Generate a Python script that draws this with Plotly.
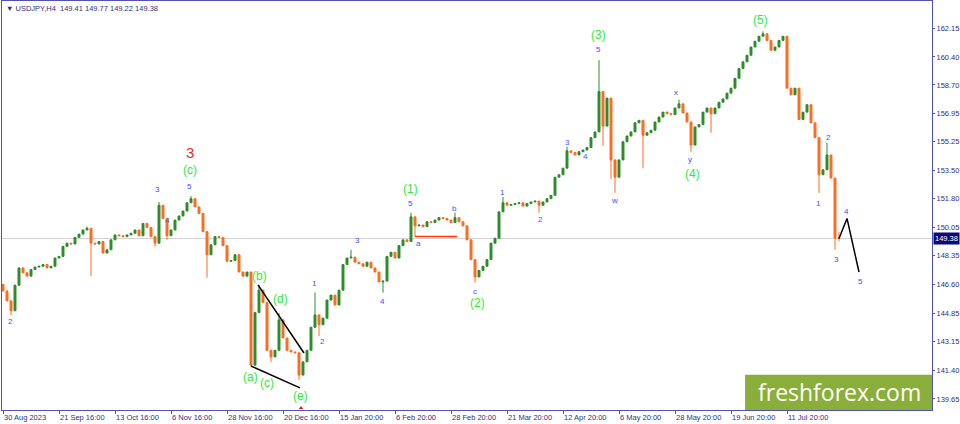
import plotly.graph_objects as go

# USDJPY H4 closes (one bar every few pixels of the original chart)
closes = [
    146.2, 145.6, 145.0, 146.55, 147.6, 147.3, 147.1, 147.5, 147.65, 147.7,
    147.8, 147.6, 147.7, 148.2, 148.3, 148.9, 149.1, 149.05, 149.45, 149.65,
    149.9, 150.0, 149.1, 149.05, 149.2, 148.5, 148.7, 149.3, 149.6, 149.55,
    149.5, 149.6, 149.7, 149.9, 149.55, 150.3, 150.05, 149.5, 149.1, 151.4,
    150.6, 149.55, 149.9, 150.5, 150.75, 151.05, 151.55, 151.8, 151.3, 150.9,
    149.8, 148.4, 149.0, 149.5, 149.45, 148.95, 148.0, 148.05, 148.4, 147.35,
    147.1, 147.35, 141.7, 144.9, 146.25, 145.5, 142.6, 142.2, 142.6, 144.45,
    143.35, 142.6, 142.5, 142.45, 141.1, 141.9, 142.6, 144.0, 144.75, 144.15,
    144.55, 145.65, 145.95, 145.35, 146.25, 147.8, 148.2, 148.25, 147.95, 147.85,
    147.7, 147.95, 147.6, 147.35, 146.75, 146.8, 148.3, 148.55, 148.2, 148.95,
    149.3, 149.2, 150.7, 150.15, 150.2, 150.1, 150.4, 150.35, 150.5, 150.65,
    150.6, 150.5, 150.35, 150.65, 150.4, 150.15, 149.3, 148.1, 147.05, 147.45,
    147.7, 148.1, 149.1, 149.4, 151.0, 151.55, 151.4, 151.45, 151.5, 151.55,
    151.35, 151.5, 151.6, 151.65, 151.4, 151.6, 151.8, 152.0, 153.1, 153.25,
    153.65, 154.7, 154.6, 154.45, 154.65, 154.75, 154.9, 155.5, 155.85, 158.3,
    156.2, 157.9, 154.15, 153.1, 154.15, 155.25, 155.6, 155.85, 156.4, 156.55,
    155.65, 155.8, 155.95, 156.45, 156.75, 157.05, 156.95, 156.9, 157.3, 157.55,
    157.0, 156.45, 155.05, 156.15, 156.3, 157.05, 157.3, 156.95, 157.3, 157.65,
    157.85, 158.2, 158.5, 159.1, 159.7, 160.1, 160.5, 161.0, 161.35, 161.65,
    161.8, 161.4, 160.8, 161.0, 161.4, 161.65, 158.5, 158.1, 158.5, 156.6,
    157.05, 157.5, 156.4, 155.5, 153.25, 153.55, 154.45, 153.05, 149.41, 149.38,
]
first_open = 146.6

# long shadows: bar -> (high, low); None keeps the body edge
wicks = {
    2: (None, 144.75), 21: (150.1, None), 22: (None, 147.1), 38: (None, 148.9),
    39: (151.6, None), 41: (None, 149.3), 47: (151.95, None), 51: (None, 147.0),
    62: (None, 141.65), 64: (146.55, None), 67: (None, 141.9), 69: (144.85, None),
    74: (None, 140.8), 78: (146.1, None), 79: (None, 143.45), 87: (148.7, None),
    95: (None, 146.1), 102: (150.95, None), 103: (None, 149.5), 113: (150.95, None),
    118: (None, 146.7), 125: (151.9, None), 134: (None, 150.95), 141: (154.95, None),
    149: (160.2, None), 150: (None, 155.0), 152: (None, 153.0), 153: (None, 152.15),
    160: (None, 153.65), 169: (157.8, None), 172: (None, 154.65), 177: (None, 155.8),
    190: (161.95, None), 204: (None, 152.15), 206: (155.2, None), 208: (None, 148.7),
    209: (149.77, 149.22),
}

date_labels = ["30 Aug 2023", "21 Sep 16:00", "13 Oct 16:00", "6 Nov 16:00",
               "28 Nov 16:00", "20 Dec 16:00", "15 Jan 20:00", "6 Feb 20:00",
               "28 Feb 20:00", "21 Mar 20:00", "12 Apr 20:00", "6 May 20:00",
               "28 May 20:00", "19 Jun 20:00", "11 Jul 20:00"]
bars_per_label = 14

price_ticks = [162.15, 160.40, 158.70, 156.95, 155.25, 153.50, 151.80,
               150.05, 148.35, 146.60, 144.85, 143.15, 141.40, 139.65]
last_price = 149.38
header = "USDJPY,H4\u00a0\u00a0149.41 149.77 149.22 149.38"

# wave counts (bar, price, text)
blue_labels = [
    (1.75, 144.32, "2"), (38.5, 152.33, "3"), (41, 150.45, "4"), (46.5, 152.51, "5"),
    (77.75, 146.63, "1"), (79.75, 143.11, "2"), (88.5, 149.29, "3"), (94.75, 145.59, "4"),
    (101.75, 151.48, "5"), (103.75, 149.05, "a"), (112.75, 151.23, "b"), (118, 146.14, "c"),
    (124.75, 152.20, "1"), (134.25, 150.51, "2"), (141, 155.18, "3"), (145.5, 154.33, "4"),
    (148.75, 160.82, "5"), (152.75, 151.66, "w"), (168.25, 158.27, "x"), (171.75, 154.15, "y"),
    (203.75, 151.48, "1"), (206.25, 155.48, "2"), (208.25, 148.08, "3"), (210.75, 151.05, "4"),
    (214.25, 146.75, "5"),
]
green_labels = [
    (46.75, 153.54, "(c)"), (64, 147.11, "(b)"), (69.25, 145.72, "(d)"),
    (61.75, 140.99, "(a)"), (66, 140.62, "(c)"), (74.25, 139.83, "(e)"),
    (101.75, 152.39, "(1)"), (118.5, 145.47, "(2)"), (148.75, 161.73, "(3)"),
    (172.25, 153.30, "(4)"), (189.25, 162.64, "(5)"),
]
red_labels = [(46.75, 154.63, "3")]

# drawn lines
tri_upper_x, tri_upper_y = [63.75, 75.25], [146.57, 142.44]
tri_lower_x, tri_lower_y = [62.0, 74.25], [141.65, 140.32]
proj_x, proj_y = [209, 211, 214], [149.38, 150.6, 147.35]
a_level_x, a_level_y = [103, 113.5], [149.5, 149.5]

bars = list(range(len(closes)))
opens = [first_open] + closes[:-1]
highs, lows = [], []
for i, (o, c) in enumerate(zip(opens, closes)):
    h, l = max(o, c), min(o, c)
    if i in wicks:
        wh, wl = wicks[i]
        if wh is not None:
            h = wh
        if wl is not None:
            l = wl
    highs.append(h)
    lows.append(l)

axis_col = "#5252b4"
txt_col = "#30307e"

fig = go.Figure()
fig.add_trace(go.Candlestick(
    x=bars, open=opens, high=highs, low=lows, close=closes,
    increasing=dict(line=dict(color="#2e8b2e", width=1), fillcolor="#2e8b2e"),
    decreasing=dict(line=dict(color="#ff6a1f", width=1), fillcolor="#ff6a1f"),
    whiskerwidth=0, hoverinfo="skip", showlegend=False,
))

for xs, ys, col in [(tri_upper_x, tri_upper_y, "black"), (tri_lower_x, tri_lower_y, "black"),
                    (proj_x, proj_y, "black"), (a_level_x, a_level_y, "#ff3a10")]:
    fig.add_trace(go.Scatter(x=xs, y=ys, mode="lines", line=dict(color=col, width=1.5),
                             hoverinfo="skip", showlegend=False))

# small red marker under the (e) bar
fig.add_trace(go.Scatter(x=[74.5], y=[139.1], mode="markers", cliponaxis=False,
                         marker=dict(symbol="triangle-up", size=4, color="#e02020"),
                         hoverinfo="skip", showlegend=False))

# current price line
fig.add_shape(type="line", xref="paper", x0=0, x1=1, yref="y", y0=last_price, y1=last_price,
              line=dict(color="#d2d2d2", width=1), layer="below")

anns = []
for x, y, t in blue_labels:
    anns.append(dict(x=x, y=y, text=t, showarrow=False,
                     font=dict(family="Liberation Sans", size=8, color="#4a4aff")))
for x, y, t in green_labels:
    anns.append(dict(x=x, y=y, text=t, showarrow=False,
                     font=dict(family="Liberation Sans", size=12, color="#34e834")))
for x, y, t in red_labels:
    anns.append(dict(x=x, y=y, text=t, showarrow=False,
                     font=dict(family="Liberation Sans", size=15, color="#f02828")))

anns.append(dict(xref="paper", x=1, y=last_price, xanchor="left", yanchor="middle",
                 text=f"{last_price:.2f}", showarrow=False, bgcolor="#0a0a78",
                 borderpad=1, xshift=1,
                 font=dict(family="Liberation Sans", size=7.5, color="white")))
anns.append(dict(xref="paper", yref="paper", x=0, y=1, xanchor="left", yanchor="top",
                 xshift=2, yshift=-1, text="\u25bc " + header, showarrow=False,
                 font=dict(family="Liberation Sans", size=7.5, color=txt_col)))

# watermark
fig.add_shape(type="rect", xref="paper", yref="paper", x0=0.799, x1=1.0, y0=0, y1=0.086,
              fillcolor="#8aae3a", line=dict(width=0), layer="above")
anns.append(dict(xref="paper", yref="paper", x=0.9, y=0.043, xanchor="center", yanchor="middle",
                 text="freshforex.com", showarrow=False,
                 font=dict(family="Open Sans", size=23, color="white")))

fig.update_layout(
    width=960, height=424,
    margin=dict(l=2, r=28, t=1, b=14),
    paper_bgcolor="white", plot_bgcolor="white",
    annotations=anns,
    xaxis=dict(
        range=[-0.25, 232.25], rangeslider=dict(visible=False),
        tickvals=[k * bars_per_label for k in range(len(date_labels))],
        ticktext=date_labels, ticklabelposition="outside right",
        ticks="outside", ticklen=3, tickcolor=axis_col,
        showline=True, linecolor=axis_col, mirror=True,
        showgrid=False, zeroline=False, automargin=False,
        tickfont=dict(family="Liberation Sans", size=7.5, color=txt_col),
    ),
    yaxis=dict(
        side="right", range=[138.98, 163.79],
        tickvals=price_ticks, ticktext=[f"{v:.2f}" for v in price_ticks],
        ticks="outside", ticklen=2, tickcolor=axis_col,
        showline=True, linecolor=axis_col, mirror=True,
        showgrid=False, zeroline=False, automargin=False,
        tickfont=dict(family="Liberation Sans", size=7.5, color=txt_col),
    ),
)

fig.write_html("out.html", config={"displayModeBar": False},
               post_script="document.body.style.margin='0';")
